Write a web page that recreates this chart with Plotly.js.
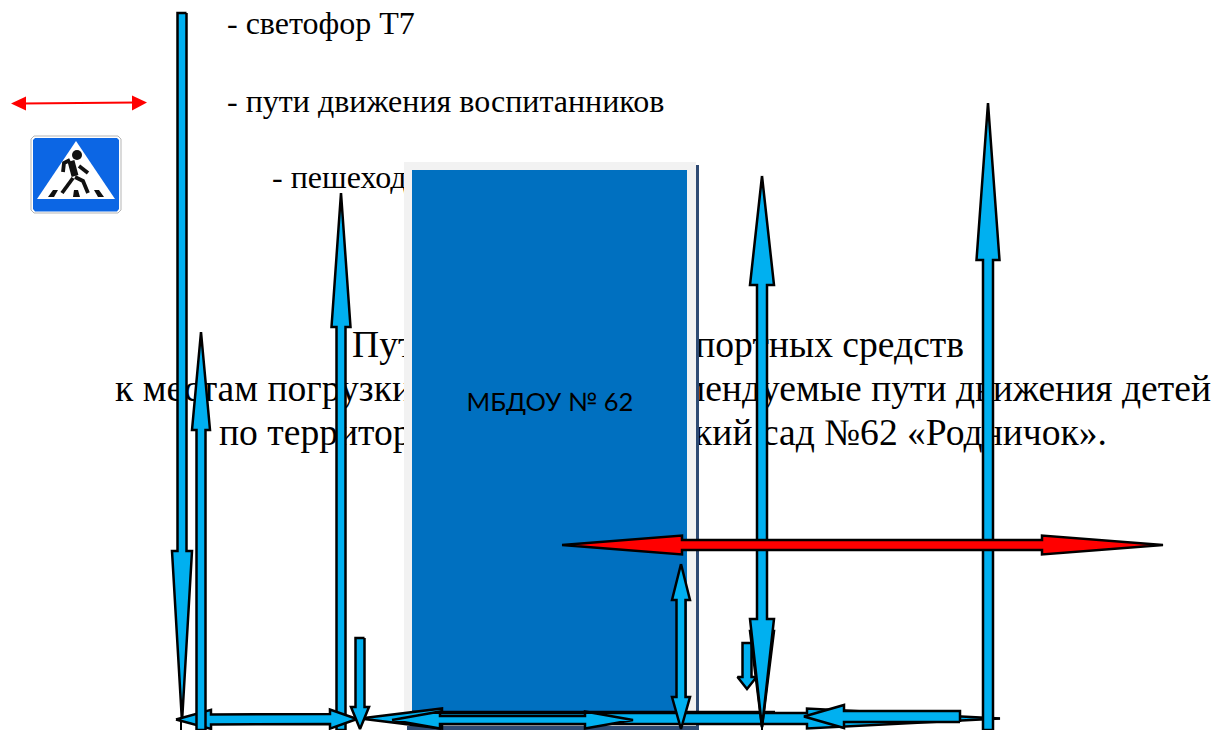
<!DOCTYPE html>
<html><head><meta charset="utf-8">
<script src="https://cdn.plot.ly/plotly-3.0.1.min.js"></script>
<style>html,body{margin:0;padding:0;background:#fff}#chart{width:1222px;height:730px}</style>
</head><body><div id="chart"></div>
<script>
// Text
const noteLabels = ["- светофор Т7", "- пути движения воспитанников", "- пешеходный переход"];
const noteX = [227, 227, 272];
const noteY = [26, 104, 180];
const headingLeft = ["Пути подъезда", "к местам погрузки", "по территории"];
const headingLeftX = [352, 115, 219];
const headingRight = ["транспортных средств", "мендуемые пути движения детей", "«Детский сад №62 «Родничок»."];
const headingRightX = [964, 1211, 1107];
const headingY = [348, 392, 436];
const buildingLabel = ["МБДОУ № 62"];

// Building rectangles: left, right, top, bottom
const buildingShadow = [407, 699, 165, 730];
const buildingFrame = [404, 696, 162, 726];
const buildingFace = [412, 687, 170, 712];
const buildingEdgeX = [412, 775];
const buildingEdgeY = [712, 712];

// Blue route arrows, in drawing order
const arrowStartX = [182, 747, 341, 176, 201, 360, 960, 392, 360, 681, 762, 762, 988];
const arrowStartY = [13, 643, 730, 719.5, 730, 718.5, 716.5, 720, 638, 564, 625, 176, 730];
const arrowEndX   = [182, 747, 341, 357, 201, 1000, 804, 633, 360, 681, 762, 762, 988];
const arrowEndY   = [722, 689, 193, 719, 332, 718.5, 716.5, 720, 729, 729, 727, 727, 103];
const arrowStartHead = [0, 0, 0, 35, 0, 82, 0, 48, 0, 36, 0, 109, 0];
const arrowEndHead   = [171, 12, 134, 27, 98, 193, 40, 48, 22, 32, 96, 108, 157];
const arrowShaft = [9, 9, 9, 10, 9, 11, 11, 8, 9, 9, 10, 10, 10];
const arrowHead  = [20, 19, 19, 19, 18, 20, 23, 17, 18, 18, 24, 24, 23];

// Red route arrow
const redArrowX = [562, 1163];
const redArrowY = [545, 545];
const redArrowHeads = [120, 121];

// Legend arrow
const legendLineX = [22, 136];
const legendLineY = [103.5, 102.5];
const legendHeadLeftX = [11, 26, 26];
const legendHeadLeftY = [103.5, 96.5, 110.5];
const legendHeadRightX = [147, 132, 132];
const legendHeadRightY = [102.5, 95.5, 110.5];

// Crossing sign
const signEdgeX = [34, 118, 121, 121, 118, 34, 31, 31, 34];
const signEdgeY = [136, 136, 139, 210, 213, 213, 210, 139, 136];
const signFaceX = [35, 117, 119, 119, 117, 35, 33, 33, 35];
const signFaceY = [138, 138, 140, 209, 211.5, 211.5, 209, 140, 138];
const signTriangleX = [76, 115, 37, 76];
const signTriangleY = [141, 199, 199, 141];
const signStripeX = [[53, 58, 54, 48, 53], [74, 78, 80, 73, 74], [94, 99, 104, 98, 94]];
const signStripeY = [[190, 190, 197, 197, 190], [190, 190, 197, 197, 190], [190, 190, 197, 197, 190]];
const walkerTorsoX = [71, 75];
const walkerTorsoY = [161, 176];
const walkerLimbX = [[70, 64, 63], [79, 88], [73, 62], [75, 83, 88]];
const walkerLimbY = [[160, 163, 172], [166, 173], [178, 193], [177, 181, 193]];
const walkerHeadX = [77];
const walkerHeadY = [155];

const serif = "Liberation Serif, Times New Roman, serif";
const traces = [];
const poly = (x, y, fill, line, width) => traces.push({
  x, y, type: "scatter", mode: width ? "lines" : "none", fill: "toself", fillcolor: fill,
  line: {color: line || fill, width: width || 0, simplify: false}, hoverinfo: "skip", showlegend: false
});
const path = (x, y, color, width) => traces.push({
  x, y, type: "scatter", mode: "lines", line: {color, width, simplify: false},
  hoverinfo: "skip", showlegend: false
});
const rect = (r, fill) => poly([r[0], r[1], r[1], r[0], r[0]], [r[2], r[2], r[3], r[3], r[2]], fill);
const textTrace = (x, y, text, size, family, pos) => traces.push({
  x, y, text, type: "scatter", mode: "text", textposition: pos, cliponaxis: false,
  textfont: {family, size, color: "#000"}, hoverinfo: "skip", showlegend: false
});

function arrowOutline(x0, y0, x1, y1, h0, h1, sw, hw) {
  const len = Math.hypot(x1 - x0, y1 - y0), ux = (x1 - x0) / len, uy = (y1 - y0) / len;
  const pt = (t, s) => [x0 + ux * t + uy * s, y0 + uy * t - ux * s];
  const pts = [];
  if (h0) pts.push(pt(0, 0), pt(h0, hw / 2), pt(h0, sw / 2));
  else pts.push(pt(0, sw / 2));
  if (h1) pts.push(pt(len - h1, sw / 2), pt(len - h1, hw / 2), pt(len, 0), pt(len - h1, -hw / 2), pt(len - h1, -sw / 2));
  else pts.push(pt(len, sw / 2), pt(len, -sw / 2));
  if (h0) pts.push(pt(h0, -sw / 2), pt(h0, -hw / 2), pt(0, 0));
  else pts.push(pt(0, -sw / 2), pt(0, sw / 2));
  return {x: pts.map(p => p[0]), y: pts.map(p => p[1])};
}

// Notes and heading sit under the building and the arrows
textTrace(noteX, noteY, noteLabels, 32, serif, "middle right");
textTrace(headingLeftX, headingY, headingLeft, 37.6, serif, "middle right");
textTrace(headingRightX, headingY, headingRight, 37.6, serif, "middle left");

// Building
rect(buildingShadow, "#2F4B73");
rect(buildingFrame, "#F2F2F2");
rect(buildingFace, "#0070C0");
path(buildingEdgeX, buildingEdgeY, "#000", 2.5);
textTrace([550], [405], buildingLabel, 25.5, "Lato, Noto Sans, sans-serif", "middle center");

// Thin black ends visible beyond the tips
path([181, 181], [718, 730], "#000", 2);
path([762, 762], [724, 730], "#000", 2);
path([970, 1000], [718.5, 718.5], "#000", 2);

arrowStartX.forEach((_, i) => {
  const o = arrowOutline(arrowStartX[i], arrowStartY[i], arrowEndX[i], arrowEndY[i],
    arrowStartHead[i], arrowEndHead[i], arrowShaft[i], arrowHead[i]);
  poly(o.x, o.y, "#00B0F0", "#000", 2.5);
});

const red = arrowOutline(redArrowX[0], redArrowY[0], redArrowX[1], redArrowY[1], redArrowHeads[0], redArrowHeads[1], 10, 19);
poly(red.x, red.y, "#FF0000", "#000", 2.5);

// Legend arrow
path(legendLineX, legendLineY, "#FF0000", 2);
poly(legendHeadLeftX, legendHeadLeftY, "#FF0000");
poly(legendHeadRightX, legendHeadRightY, "#FF0000");

// Sign
poly(signEdgeX, signEdgeY, "#FFFFFF", "#B5B5B5", 1);
poly(signFaceX, signFaceY, "#0C66E4");
poly(signTriangleX, signTriangleY, "#FFFFFF");
signStripeX.forEach((x, i) => poly(x, signStripeY[i], "#111"));
path(walkerTorsoX, walkerTorsoY, "#111", 7);
walkerLimbX.forEach((x, i) => path(x, walkerLimbY[i], "#111", 3.8));
traces.push({x: walkerHeadX, y: walkerHeadY, type: "scatter", mode: "markers",
  marker: {color: "#111", size: 10}, hoverinfo: "skip", showlegend: false});

const hiddenAxis = {visible: false, fixedrange: true, showgrid: false, zeroline: false};
Plotly.newPlot("chart", traces, {
  width: 1222, height: 730,
  margin: {l: 0, r: 0, t: 0, b: 0},
  paper_bgcolor: "#fff", plot_bgcolor: "#fff", showlegend: false,
  xaxis: {...hiddenAxis, range: [0, 1222]},
  yaxis: {...hiddenAxis, range: [730, 0]}
}, {displayModeBar: false, staticPlot: true});
</script></body></html>
